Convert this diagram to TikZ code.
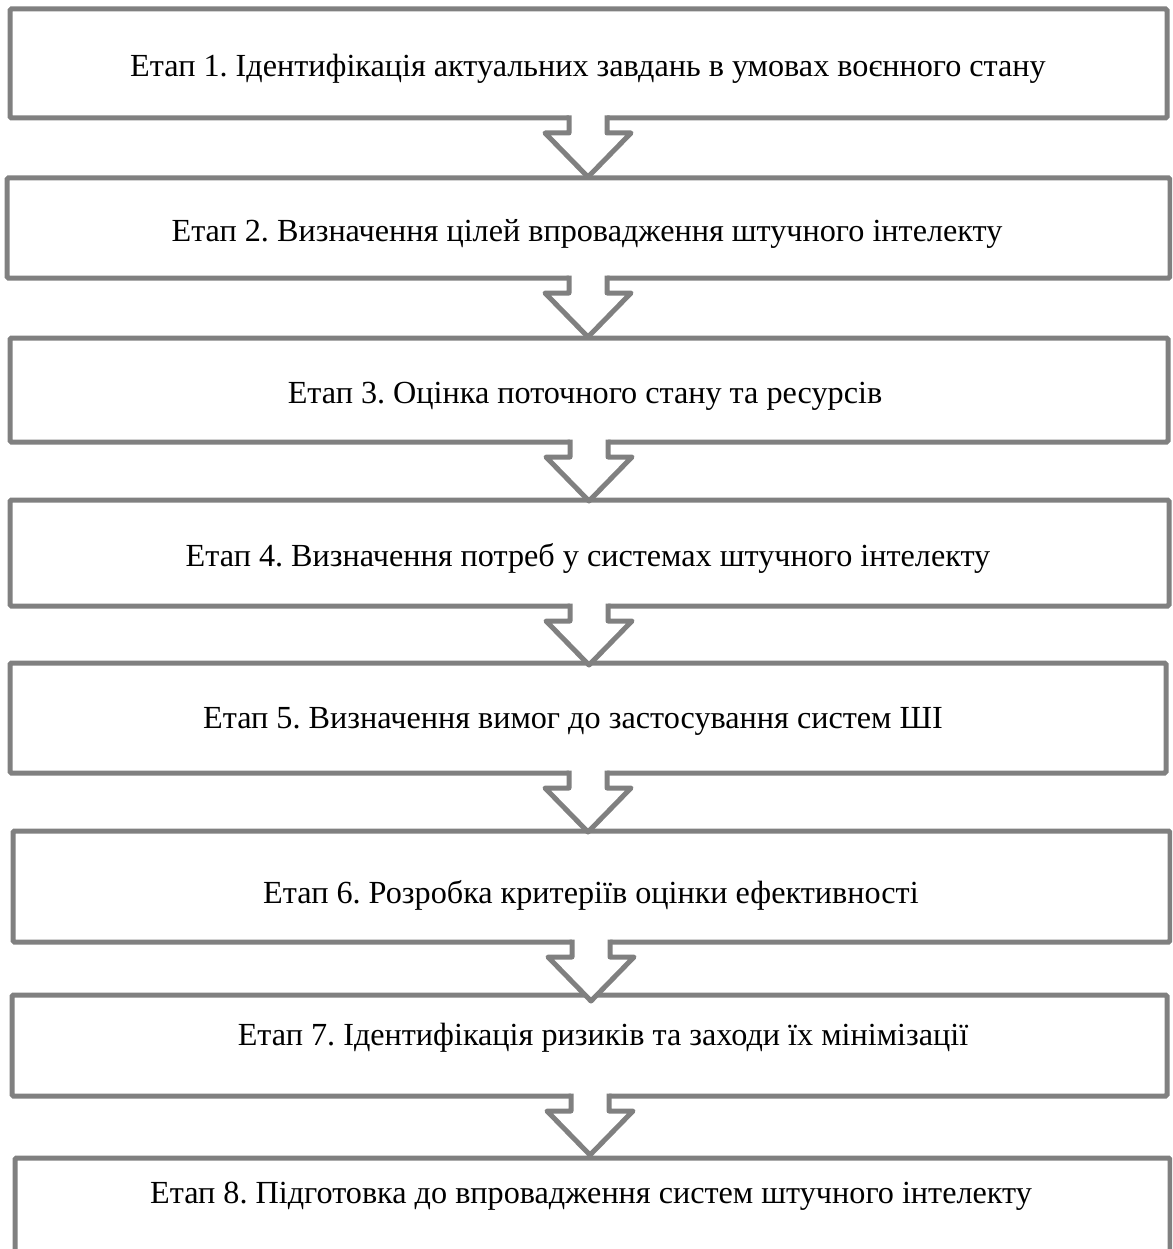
\documentclass[tikz,border=0pt]{standalone}
\usepackage{fontspec}
\setmainfont{Liberation Serif}
\usetikzlibrary{calc}
\definecolor{edgegray}{HTML}{808080}
\tikzset{
  stagebox/.style={draw=edgegray, line width=5pt, rounded corners=1.5pt, fill=white, inner sep=0pt, outer sep=0pt, minimum width=#1},
  stagetext/.style={anchor=base, inner sep=0pt, font=\fontsize{32.2}{40}\selectfont, text=black},
  arrowfill/.style={fill=white, draw=none},
  arrowline/.style={draw=edgegray, line width=5pt, line join=round, line cap=butt}
}
\newcommand{\stagearrow}[2]{%
  \path[arrowfill, shift={(#1.south)}] (#2-19,-5) -- (#2-19,15) -- (#2-43,15) -- (#2,59) -- (#2+43,15) -- (#2+19,15) -- (#2+19,-5) -- cycle;
  \draw[arrowline, shift={(#1.south)}] (#2-19,-2.5) -- (#2-19,15) -- (#2-43,15) -- (#2,59) -- (#2+43,15) -- (#2+19,15) -- (#2+19,-2.5);
}
\begin{document}
\frenchspacing
\begin{tikzpicture}[x=1pt,y=-1pt]
\useasboundingbox (0,0) rectangle (1172,1249);
\clip (0,0) rectangle (1172,1249);
\fill[white] (0,0) rectangle (1172,1249);
% boxes
\node[stagebox=1157pt, minimum height=109pt] (b1) at (588.5,63.5) {};
\node[stagebox=1163pt, minimum height=100pt] (b2) at (588.5,228) {};
\node[stagebox=1158pt, minimum height=104pt] (b3) at (589,390) {};
\node[stagebox=1159pt, minimum height=106pt] (b4) at (589.5,553) {};
\node[stagebox=1156pt, minimum height=110pt] (b5) at (588,718) {};
\node[stagebox=1157pt, minimum height=111pt] (b6) at (591.5,886.5) {};
\node[stagebox=1155pt, minimum height=101pt] (b7) at (589.5,1045.5) {};
\node[stagebox=1155pt, minimum height=110pt] (b8) at (592.5,1213) {};
% texts
\node[stagetext] (t1) at (588,77) {Етап 1. Ідентифікація актуальних завдань в умовах воєнного стану};
\node[stagetext] (t2) at (587,241) {Етап 2. Визначення цілей впровадження штучного інтелекту};
\node[stagetext] (t3) at (585,403) {Етап 3. Оцінка поточного стану та ресурсів};
\node[stagetext] (t4) at (588,566) {Етап 4. Визначення потреб у системах штучного інтелекту};
\node[stagetext] (t5) at (573,728) {Етап 5. Визначення вимог до застосування систем ШІ};
\node[stagetext] (t6) at (591,903) {Етап 6. Розробка критеріїв оцінки ефективності};
\node[stagetext] (t7) at (603,1045) {Етап 7. Ідентифікація ризиків та заходи їх мінімізації};
\node[stagetext] (t8) at (591,1203) {Етап 8. Підготовка до впровадження систем штучного інтелекту};
% arrows
\stagearrow{b1}{-0.5}
\stagearrow{b2}{-0.5}
\stagearrow{b3}{0}
\stagearrow{b4}{-0.5}
\stagearrow{b5}{0}
\stagearrow{b6}{-0.5}
\stagearrow{b7}{0.5}
\end{tikzpicture}
\end{document}
